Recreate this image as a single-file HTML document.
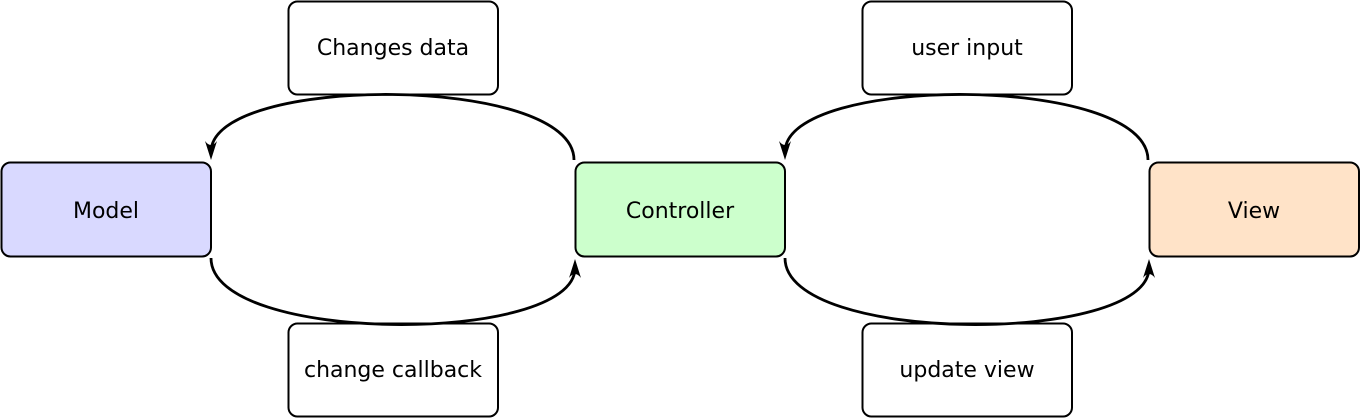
<!DOCTYPE html>
<html><head><meta charset="utf-8"><style>
body{margin:0;background:#fff}
svg{display:block}
</style></head><body>
<svg width="1361" height="419" viewBox="0 0 1361 419">
<g stroke="#000" stroke-width="2" fill="none">
<rect x="1.5" y="162.5" width="209.5" height="94" rx="9" fill="#d9d9ff"/>
<rect x="575.5" y="162.5" width="209.5" height="94" rx="9" fill="#ccffcc"/>
<rect x="1149.5" y="162.5" width="209.5" height="94" rx="9" fill="#ffe3c8"/>
<rect x="288.5" y="1.5" width="209.5" height="93" rx="9" fill="#fff"/>
<rect x="288.5" y="323.5" width="209.5" height="93" rx="9" fill="#fff"/>
<rect x="862.5" y="1.5" width="209.5" height="93" rx="9" fill="#fff"/>
<rect x="862.5" y="323.5" width="209.5" height="93" rx="9" fill="#fff"/>
<g stroke-width="2.8">
<path d="M574,160 C574,74 211,74 211,152"/>
<path d="M211,258 C211,345 575,345 575,268"/>
<path d="M1148,160 C1148,74 785,74 785,152"/>
<path d="M785,258 C785,345 1149,345 1149,268"/>
</g>
</g>
<g fill="#000">
<path d="M211,160 L205,141 Q211,149 217,141 Z"/>
<path d="M785,160 L779,141 Q785,149 791,141 Z"/>
<path d="M575,259 L569,278 Q575,270 581,278 Z"/>
<path d="M1149,259 L1143,278 Q1149,270 1155,278 Z"/>
</g>
<g text-anchor="middle" font-family="DejaVu Sans, Liberation Sans, sans-serif" font-size="22" fill="#000">
<text x="106" y="218">Model</text>
<text x="680" y="218">Controller</text>
<text x="1254" y="218">View</text>
<text x="393" y="55">Changes data</text>
<text x="393" y="377">change callback</text>
<text x="967" y="55">user input</text>
<text x="967" y="377">update view</text>
</g>
</svg>
</body></html>
